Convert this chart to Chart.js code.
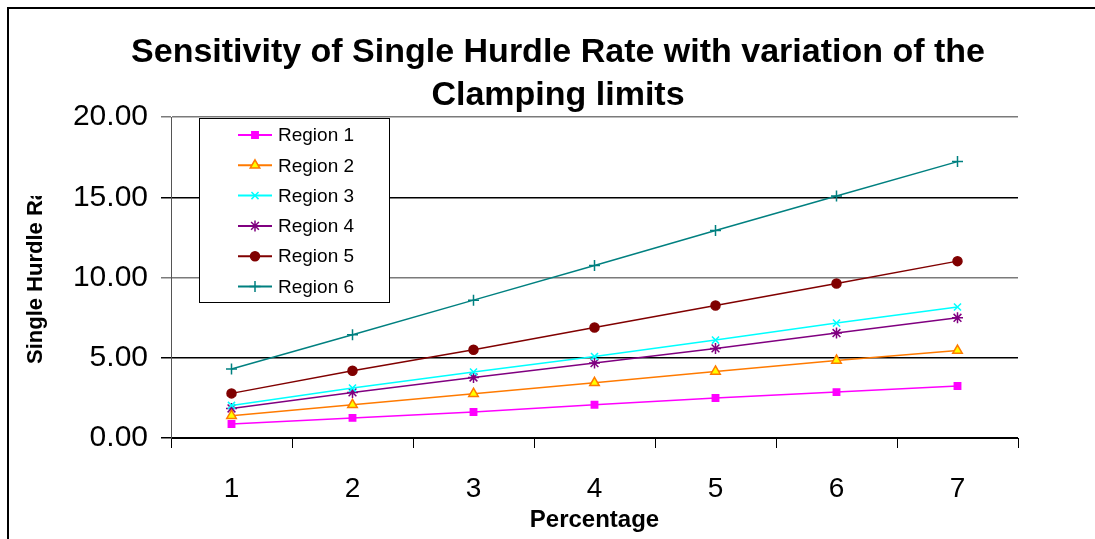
<!DOCTYPE html>
<html>
<head>
<meta charset="utf-8">
<script src="https://cdn.jsdelivr.net/npm/chart.js@4.4.1/dist/chart.umd.min.js"></script>
<style>
  html, body { margin: 0; padding: 0; background: #fff; }
  #wrap { width: 1095px; height: 539px; position: relative; }
</style>
</head>
<body>
<div id="wrap"><canvas id="hurdleChart"></canvas></div>
<script>
// chart data
const percentages = ["1", "2", "3", "4", "5", "6", "7"];
const region1 = [0.87, 1.25, 1.62, 2.07, 2.49, 2.86, 3.24];
const region2 = [1.39, 2.07, 2.76, 3.44, 4.15, 4.83, 5.45];
const region3 = [2.03, 3.11, 4.11, 5.08, 6.10, 7.16, 8.16];
const region4 = [1.84, 2.84, 3.77, 4.67, 5.58, 6.54, 7.49];
const region5 = [2.78, 4.19, 5.50, 6.88, 8.26, 9.63, 11.02];
const region6 = [4.30, 6.43, 8.59, 10.75, 12.93, 15.08, 17.22];
const yTicks = [0, 5, 10, 15, 20];

const titleLines = ["Sensitivity of Single Hurdle Rate with variation of the", "Clamping limits"];
const yTitle = "Single Hurdle Rate";
const xTitle = "Percentage";

const FONT = "'Liberation Sans', Arial, sans-serif";

function series(label, data, color, style, fill, radius) {
  return {
    label: label,
    data: data,
    borderColor: color,
    backgroundColor: fill,
    borderWidth: 1.5,
    pointStyle: style,
    pointRadius: radius,
    pointHoverRadius: radius,
    pointBorderColor: color,
    pointBackgroundColor: fill,
    pointBorderWidth: 1.5,
    tension: 0
  };
}

const datasets = [
  series("Region 1", region1, "#FF00FF", "rect", "#FF00FF", 4.5),
  series("Region 2", region2, "#FF7A00", "triangle", "#FFFF00", 5.5),
  series("Region 3", region3, "#00FFFF", "crossRot", "#00FFFF", 5),
  series("Region 4", region4, "#800080", "star", "#800080", 5.5),
  series("Region 5", region5, "#800000", "circle", "#800000", 4.5),
  series("Region 6", region6, "#008080", "cross", "#008080", 5.5)
];

// frame, title, y-axis title (clipped) and legend box
const decorations = {
  id: "decorations",
  beforeDraw(chart) {
    const ctx = chart.ctx;
    ctx.save();
    ctx.strokeStyle = "#000";
    ctx.lineWidth = 2;
    ctx.beginPath();
    ctx.moveTo(8, 600);
    ctx.lineTo(8, 8);
    ctx.lineTo(1200, 8);
    ctx.stroke();
    ctx.restore();
  },
  afterDraw(chart) {
    const ctx = chart.ctx;
    ctx.save();
    // title
    ctx.fillStyle = "#000";
    ctx.font = "bold 34px " + FONT;
    ctx.textAlign = "center";
    ctx.textBaseline = "alphabetic";
    ctx.fillText(titleLines[0], 558, 62);
    ctx.fillText(titleLines[1], 558, 105);

    // y title, clipped like the original
    ctx.save();
    ctx.beginPath();
    ctx.rect(0, 196, 80, 200);
    ctx.clip();
    ctx.translate(42, 364);
    ctx.rotate(-Math.PI / 2);
    ctx.font = "bold 22px " + FONT;
    ctx.textAlign = "left";
    ctx.textBaseline = "alphabetic";
    ctx.fillText(yTitle, 0, 0);
    ctx.restore();

    // legend
    const lx = 199, ly = 118, lw = 190, lh = 184;
    ctx.fillStyle = "#fff";
    ctx.fillRect(lx, ly, lw, lh);
    ctx.strokeStyle = "#000";
    ctx.lineWidth = 1;
    ctx.strokeRect(lx + 0.5, ly + 0.5, lw, lh);
    ctx.font = "19px " + FONT;
    ctx.textAlign = "left";
    ctx.textBaseline = "middle";
    chart.data.datasets.forEach((ds, i) => {
      const y = 135 + i * 30.3;
      ctx.strokeStyle = ds.borderColor;
      ctx.lineWidth = 2;
      ctx.beginPath();
      ctx.moveTo(238, y);
      ctx.lineTo(272, y);
      ctx.stroke();
      ctx.strokeStyle = ds.pointBorderColor;
      ctx.fillStyle = ds.pointBackgroundColor;
      ctx.lineWidth = 1.5;
      Chart.helpers.drawPoint(ctx, {
        pointStyle: ds.pointStyle,
        radius: ds.pointRadius,
        rotation: 0,
        borderWidth: 1.5
      }, 255, y);
      ctx.fillStyle = "#000";
      ctx.fillText(ds.label, 278, y + 1);
    });
    ctx.restore();
  }
};

const ctx = document.getElementById("hurdleChart").getContext("2d");
new Chart(ctx, {
  type: "line",
  data: { labels: percentages, datasets: datasets },
  options: {
    responsive: true,
    maintainAspectRatio: false,
    animation: false,
    events: [],
    layout: { padding: { top: 117, right: 77, bottom: 0, left: 0 } },
    plugins: {
      legend: { display: false },
      title: { display: false },
      tooltip: { enabled: false }
    },
    scales: {
      x: {
        offset: true,
        grid: {
          offset: true,
          drawOnChartArea: false,
          drawTicks: true,
          tickLength: 10,
          color: "#000",
          lineWidth: 1
        },
        border: { display: true, color: "#000", width: 1 },
        ticks: {
          color: "#000",
          font: { family: FONT, size: 28 },
          padding: 24,
          maxRotation: 0
        },
        title: {
          display: true,
          text: xTitle,
          color: "#000",
          font: { family: FONT, size: 24, weight: "bold" },
          padding: { top: 0, bottom: 4 }
        },
        afterFit(scale) { scale.height = 539 - 438; }
      },
      y: {
        min: 0,
        max: 20,
        afterBuildTicks(scale) { scale.ticks = yTicks.map(v => ({ value: v })); },
        grid: {
          drawTicks: true,
          tickLength: 10,
          color: (c) => (c.tick && (c.tick.value === 20 || c.tick.value === 10)) ? "#7a7a7a" : "#000",
          lineWidth: 1.5
        },
        border: { display: true, color: "#555", width: 1 },
        ticks: {
          color: "#000",
          font: { family: FONT, size: 30 },
          padding: 13,
          callback: (v) => Number(v).toFixed(2)
        },
        afterFit(scale) { scale.width = 171; }
      }
    }
  },
  plugins: [decorations]
});
</script>
</body>
</html>
